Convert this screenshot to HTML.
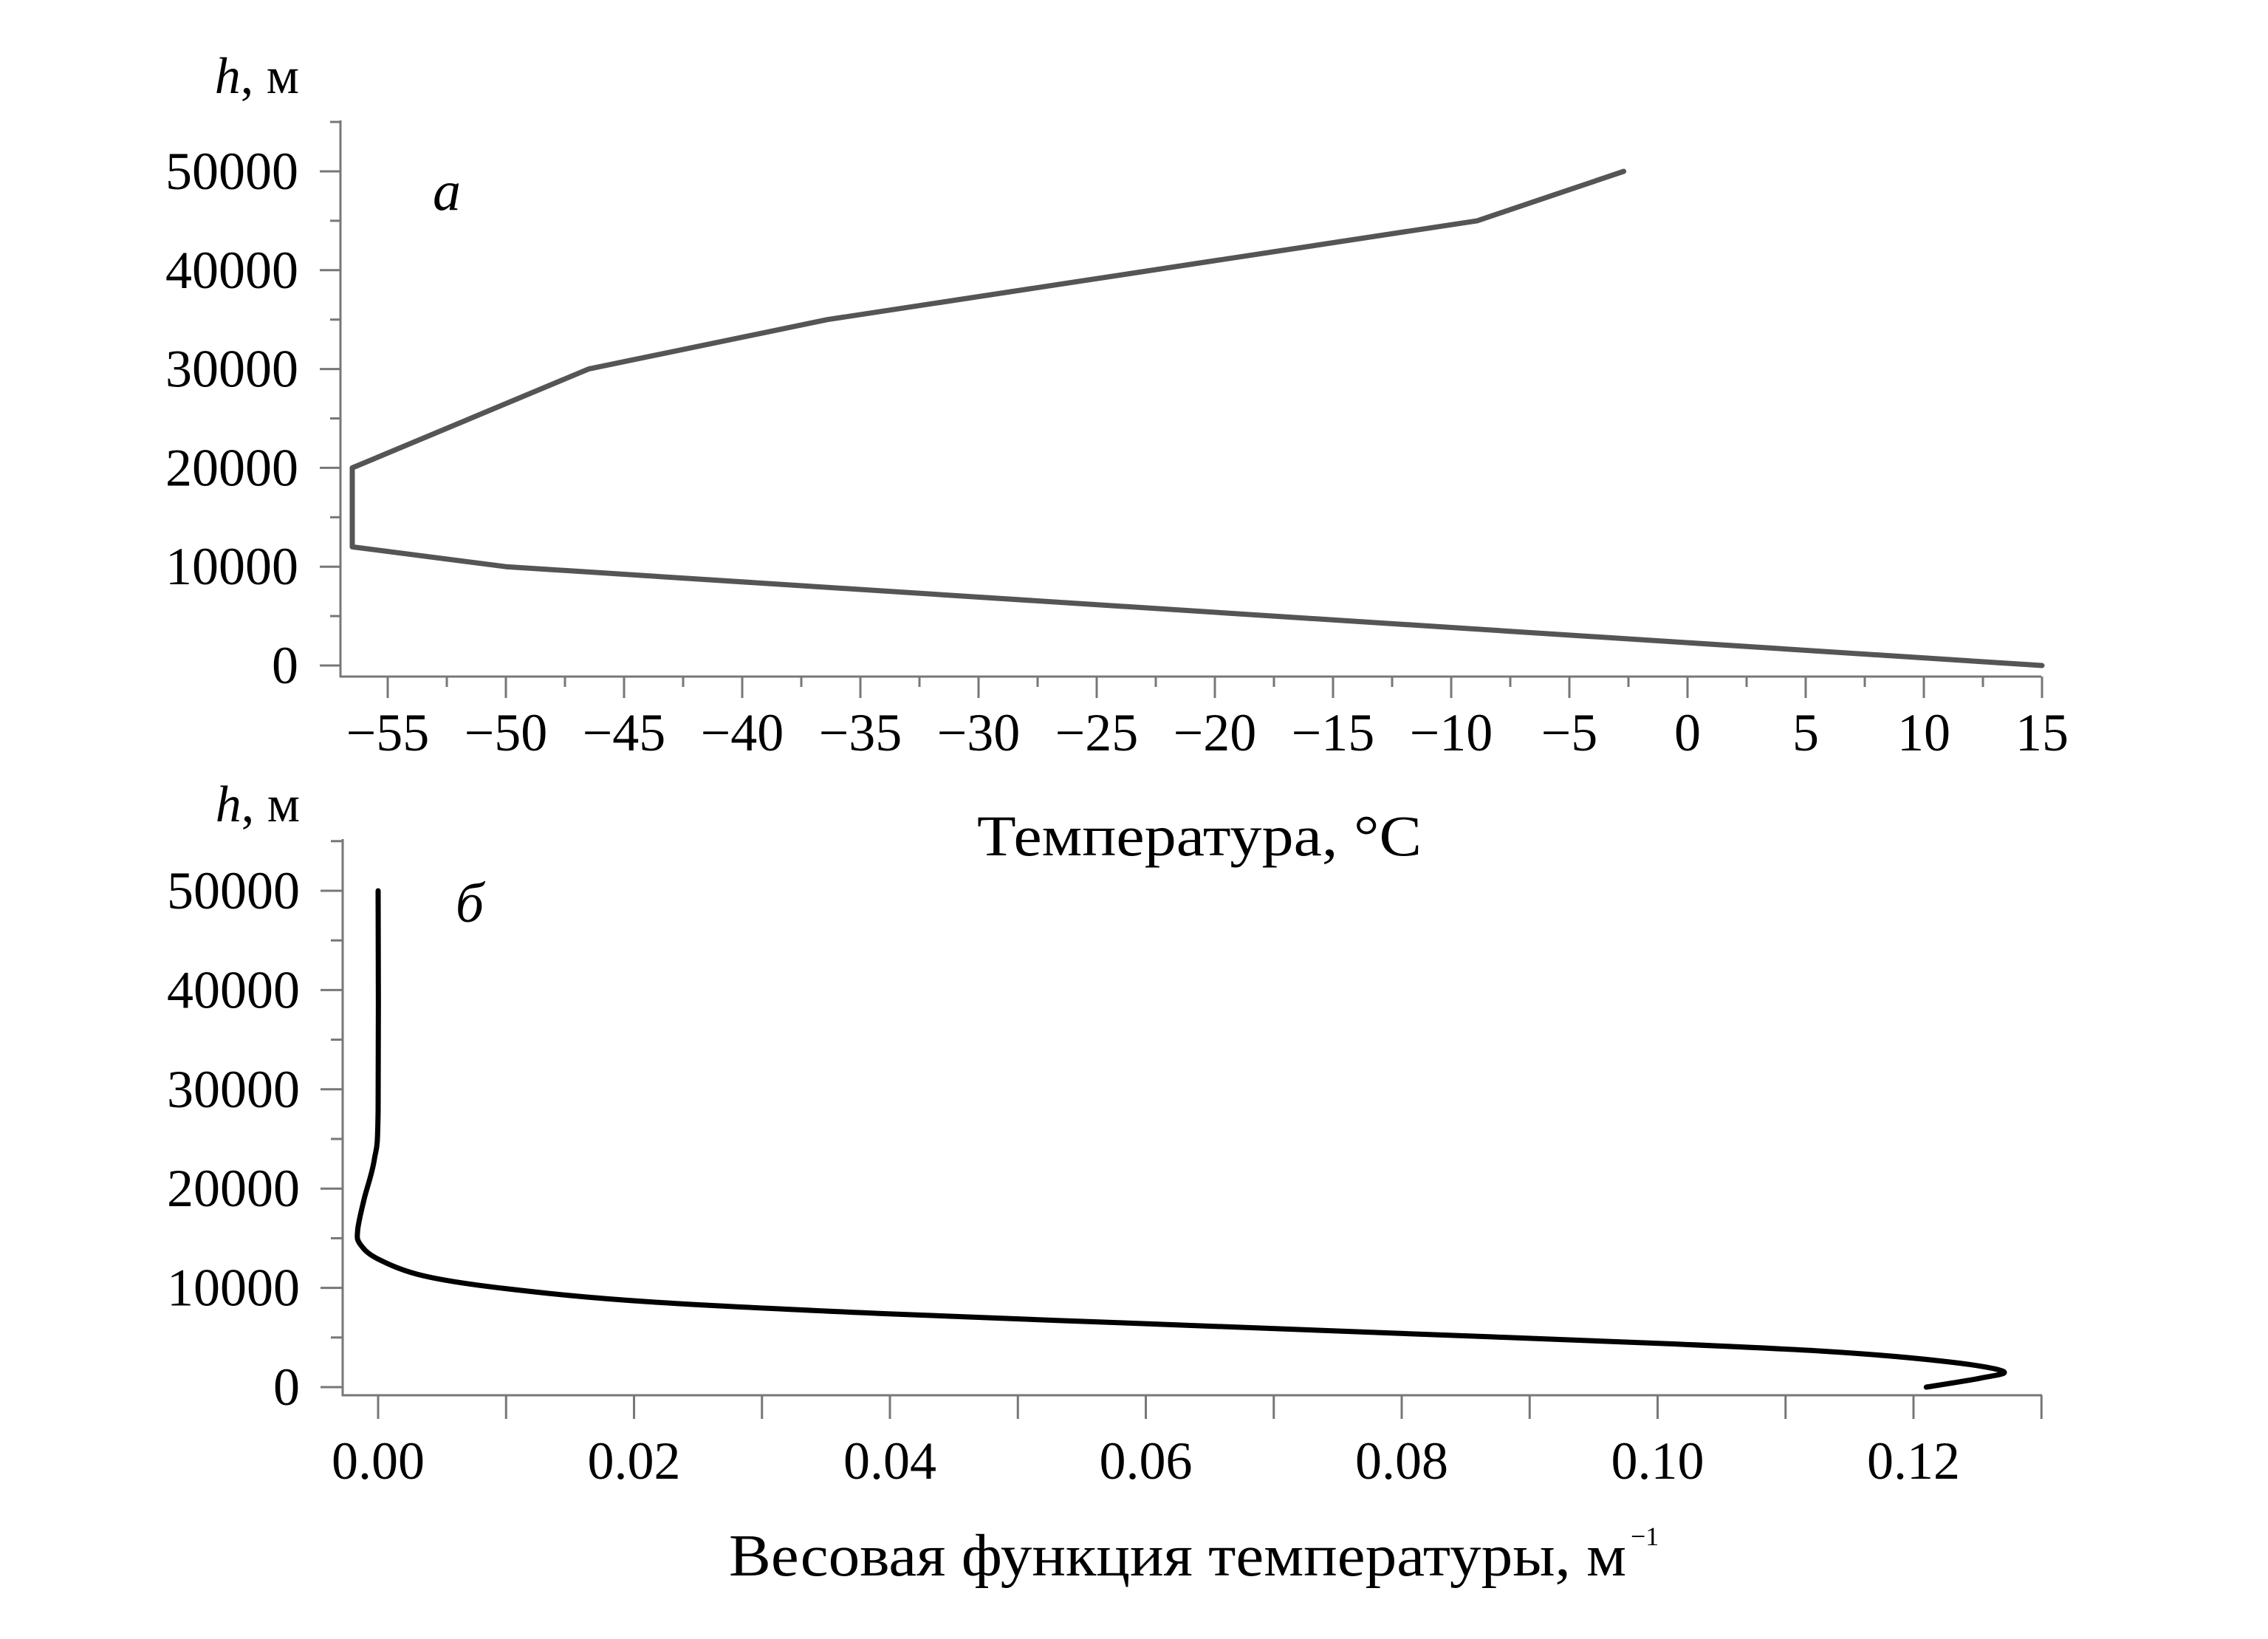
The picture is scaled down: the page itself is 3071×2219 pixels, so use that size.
<!DOCTYPE html>
<html><head><meta charset="utf-8"><style>
html,body{margin:0;padding:0;background:#fff;}
svg{display:block;font-family:"Liberation Serif",serif;}
</style></head><body>
<svg id="chart" width="3071" height="2219" viewBox="0 0 3071 2219" xmlns="http://www.w3.org/2000/svg">
<rect width="3071" height="2219" fill="#fff"/>
<g id="top"></g>
<g id="bot"></g>
</svg>
<script>
// Panel a: temperature profile
const tempValues = [15, -50, -56.5, -56.5, -46.5, -36.4, -8.9, -2.7];
const tempHeights = [0, 10000, 12000, 20000, 30000, 35000, 45000, 50000];
const tempTicks = [-55,-50,-45,-40,-35,-30,-25,-20,-15,-10,-5,0,5,10,15];
const heightTicks = [0,10000,20000,30000,40000,50000];
// Panel b: weight function
const wfValues = [0,0,-0.0003,-0.0011,-0.0016,-0.0014,0,0.0036,0.0101,0.0211,0.0395,0.0598,0.0801,0.1003,0.1132,0.1224,0.127,0.1252,0.121];
const wfHeights = [50000,27900,22900,18900,15800,14400,12900,11200,9900,8600,7400,6400,5400,4400,3600,2600,1600,900,0];
const wfTicks = [0,0.02,0.04,0.06,0.08,0.10,0.12];

const NS="http://www.w3.org/2000/svg";
function mk(parent,tag,attrs,text){const e=document.createElementNS(NS,tag);for(const k in attrs)e.setAttribute(k,attrs[k]);if(text!==undefined)e.textContent=text;parent.appendChild(e);return e;}
function smooth(pts){let d='M'+pts[0][0].toFixed(1)+','+pts[0][1].toFixed(1);
 for(let i=0;i<pts.length-1;i++){const p0=pts[i-1]||pts[i],p1=pts[i],p2=pts[i+1],p3=pts[i+2]||p2;
  const c1=[p1[0]+(p2[0]-p0[0])/6,p1[1]+(p2[1]-p0[1])/6],c2=[p2[0]-(p3[0]-p1[0])/6,p2[1]-(p3[1]-p1[1])/6];
  d+='C'+c1.map(v=>v.toFixed(1)).join(',')+' '+c2.map(v=>v.toFixed(1)).join(',')+' '+p2[0].toFixed(1)+','+p2[1].toFixed(1);}
 return d;}
const AX="#777";

// Top axes
const xT=t=>525+(t+55)*32.0;
const yT=h=>901-h/10000*133.8;
const gT=document.getElementById('top');
let e;
e=mk(gT,'line',{x1:461,y1:163,x2:461,y2:917,stroke:AX,'stroke-width':3});


e=mk(gT,'line',{x1:460,y1:916,x2:2764,y2:916,stroke:AX,'stroke-width':3});


for(let h=0;h<=55000;h+=5000){const maj=h%10000===0;
 mk(gT,'line',{x1:maj?433:447,y1:yT(h),x2:461,y2:yT(h),stroke:AX,'stroke-width':3});}
heightTicks.forEach(h=>{e=mk(gT,'text',{x:404,y:yT(h)+24,'text-anchor':'end','font-size':72},String(h));
 
 });
for(let t=-55;t<=15;t+=2.5){const maj=t%5===0;
 mk(gT,'line',{x1:xT(t),y1:916,x2:xT(t),y2:maj?945:930,stroke:AX,'stroke-width':3});}
tempTicks.forEach(t=>{e=mk(gT,'text',{x:xT(t),y:1016,'text-anchor':'middle','font-size':72},t<0?'\u2212'+(-t):String(t));
 
 });
e=mk(gT,'path',{d:tempValues.map((v,i)=>(i?'L':'M')+xT(v).toFixed(1)+','+yT(tempHeights[i]).toFixed(1)).join(''),fill:'none',stroke:'#555','stroke-width':7,'stroke-linejoin':'round','stroke-linecap':'round'});


e=mk(gT,'text',{x:405,y:126,'text-anchor':'end','font-size':70});


mk(e,'tspan',{'font-style':'italic'},'h');mk(e,'tspan',{},', м');
e=mk(gT,'text',{x:605,y:284,'text-anchor':'middle','font-size':76,'font-style':'italic'},'a');


e=mk(gT,'text',{x:1624,y:1158,'text-anchor':'middle','font-size':78,textLength:602,lengthAdjust:'spacingAndGlyphs'},'Температура, °C');



// Bottom axes
const xB=v=>512+v/0.02*346.5;
const yB=h=>1878-h/50000*672;
const gB=document.getElementById('bot');
e=mk(gB,'line',{x1:464,y1:1136,x2:464,y2:1890,stroke:AX,'stroke-width':3});


e=mk(gB,'line',{x1:463,y1:1889,x2:2765,y2:1889,stroke:AX,'stroke-width':3});


for(let h=0;h<=55000;h+=5000){const maj=h%10000===0;
 mk(gB,'line',{x1:maj?434:448,y1:yB(h),x2:464,y2:yB(h),stroke:AX,'stroke-width':3});}
heightTicks.forEach(h=>{e=mk(gB,'text',{x:406,y:yB(h)+24,'text-anchor':'end','font-size':72},String(h));
 
 });
for(let i=0;i<=13;i++){const v=i*0.01;
 mk(gB,'line',{x1:xB(v),y1:1889,x2:xB(v),y2:1921,stroke:AX,'stroke-width':3});}
wfTicks.forEach(v=>{e=mk(gB,'text',{x:xB(v),y:2002,'text-anchor':'middle','font-size':72},v.toFixed(2));
 
 });
e=mk(gB,'path',{d:smooth(wfValues.map((v,i)=>[xB(v),yB(wfHeights[i])])),fill:'none',stroke:'#000','stroke-width':7,'stroke-linejoin':'round','stroke-linecap':'round'});


e=mk(gB,'text',{x:406,y:1112,'text-anchor':'end','font-size':70});


mk(e,'tspan',{'font-style':'italic'},'h');mk(e,'tspan',{},', м');
e=mk(gB,'text',{x:636,y:1248,'text-anchor':'middle','font-size':76,'font-style':'italic'},'б');


e=mk(gB,'text',{x:987,y:2133,'font-size':80,textLength:1215,lengthAdjust:'spacingAndGlyphs'},'Весовая функция температуры, м');


e=mk(gB,'text',{x:2208,y:2092,'font-size':36},'\u22121');


</script>
</body></html>
